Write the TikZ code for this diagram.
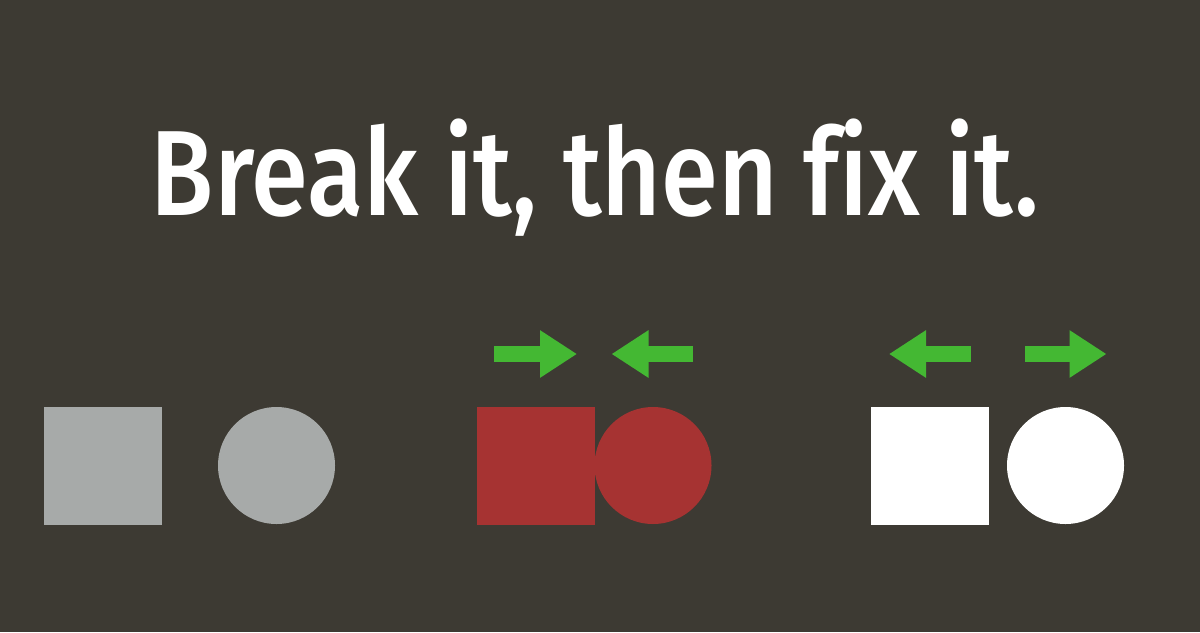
\documentclass[tikz,border=0pt]{standalone}
\usepackage{fontspec}
\newfontfamily\titlefont{Fira Sans}[UprightFont=* Medium, FakeStretch=0.85, Ligatures=NoCommon]
\usetikzlibrary{arrows.meta}
\definecolor{slate}{HTML}{3D3A33}
\definecolor{stone}{HTML}{A7AAA9}
\definecolor{brick}{HTML}{A63332}
\definecolor{leaf}{HTML}{44B833}

\begin{document}
\begin{tikzpicture}[shape box/.style={rectangle,minimum size=2.36cm,inner sep=0pt},shape disc/.style={circle,minimum size=2.34cm,inner sep=0pt},push/.style={leaf,line width=0.32cm,-{Triangle[length=0.74cm,width=0.9cm]}}]
  \fill[slate] (0,0) rectangle (24,-12.64);
  \useasboundingbox (0,0) rectangle (24,-12.64);

  \node[anchor=base,white,font=\titlefont\fontsize{69}{80}\selectfont] (title) at (11.9,-4.3) {Break it, then fix it.};

  \node[shape box,fill=stone] (sq1) at (2.05,-9.31) {};
  \node[shape disc,fill=stone] (ci1) at (5.53,-9.31) {};
  \node[shape box,fill=brick] (sq2) at (10.72,-9.31) {};
  \node[shape disc,fill=brick] (ci2) at (13.06,-9.31) {};
  \node[shape box,fill=white] (sq3) at (18.59,-9.31) {};
  \node[shape disc,fill=white] (ci3) at (21.31,-9.31) {};

  \coordinate (p1) at (9.88,-7.08);
  \coordinate (q1) at (11.54,-7.08);
  \coordinate (p2) at (13.85,-7.08);
  \coordinate (q2) at (12.23,-7.08);
  \coordinate (p3) at (19.41,-7.08);
  \coordinate (q3) at (17.78,-7.08);
  \coordinate (p4) at (20.50,-7.08);
  \coordinate (q4) at (22.13,-7.08);

  \draw[push] (p1) -- (q1);
  \draw[push] (p2) -- (q2);
  \draw[push] (p3) -- (q3);
  \draw[push] (p4) -- (q4);
\end{tikzpicture}
\end{document}
